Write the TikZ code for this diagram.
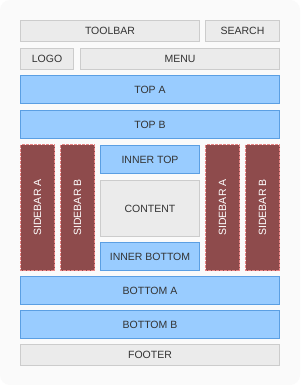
\documentclass[tikz,border=0pt]{standalone}
\usepackage{fontspec}
\setmainfont{Liberation Sans}
\usepackage{tikz}
\usepackage{xcolor}
\definecolor{bggray}{HTML}{FAFAFA}
\definecolor{boxgray}{HTML}{EBEBEB}
\definecolor{linegray}{HTML}{CCCCCC}
\definecolor{boxblue}{HTML}{99CCFF}
\definecolor{lineblue}{HTML}{5B9FE3}
\definecolor{sidered}{HTML}{8E4B4C}
\definecolor{sidedash}{HTML}{E88585}
\definecolor{txtdark}{HTML}{333333}
\tikzset{
  block/.style={inner sep=0pt, outer sep=0pt, line width=1pt, text=txtdark,
    font=\fontsize{10.5}{12}\selectfont},
  graybox/.style={block, fill=boxgray, draw=linegray},
  bluebox/.style={block, fill=boxblue, draw=lineblue},
  sidebox/.style={block, fill=sidered, draw=sidedash, dash pattern=on 3pt off 1pt,
    text=white, rotate=90, minimum width=126pt, minimum height=34pt},
}

\begin{document}
\begin{tikzpicture}[x=1pt, y=-1pt]  % 1pt = 1px, y down
  % page background, rounded
  \fill[white] (0,0) rectangle (300,385);
  \fill[bggray, rounded corners=10pt] (0,0) rectangle (300,385);
  \useasboundingbox (0,0) rectangle (300,385);
  % header rows
  \node[graybox, minimum width=179pt, minimum height=21pt] (toolbar) at (110,31) {TOOLBAR};
  \node[graybox, minimum width=74pt, minimum height=21pt] (search) at (242.5,31) {SEARCH};
  \node[graybox, minimum width=53pt, minimum height=21pt] (logo) at (47,59) {LOGO};
  \node[graybox, minimum width=199pt, minimum height=21pt] (menu) at (180,59) {MENU};
  % top bands
  \node[bluebox, minimum width=259pt, minimum height=28pt] (topa) at (150,89.5) {TOP A};
  \node[bluebox, minimum width=259pt, minimum height=28pt] (topb) at (150,124.5) {TOP B};
  % sidebars, two each side
  \node[sidebox] (lefta) at (37.5,207.5) {SIDEBAR A};
  \node[sidebox] (leftb) at (77.5,207.5) {SIDEBAR B};
  \node[sidebox] (righta) at (222.5,207.5) {SIDEBAR A};
  \node[sidebox] (rightb) at (262.5,207.5) {SIDEBAR B};
  % middle column
  \node[bluebox, minimum width=99pt, minimum height=28pt] (innertop) at (150,159.5) {INNER TOP};
  \node[graybox, minimum width=99pt, minimum height=56pt] (content) at (150,208.5) {CONTENT};
  \node[bluebox, minimum width=99pt, minimum height=28pt] (innerbot) at (150,256.5) {INNER BOTTOM};
  % bottom bands and footer
  \node[bluebox, minimum width=259pt, minimum height=28pt] (bota) at (150,290.5) {BOTTOM A};
  \node[bluebox, minimum width=259pt, minimum height=28pt] (botb) at (150,324.5) {BOTTOM B};
  \node[graybox, minimum width=259pt, minimum height=21pt] (footer) at (150,355) {FOOTER};
\end{tikzpicture}
\end{document}
